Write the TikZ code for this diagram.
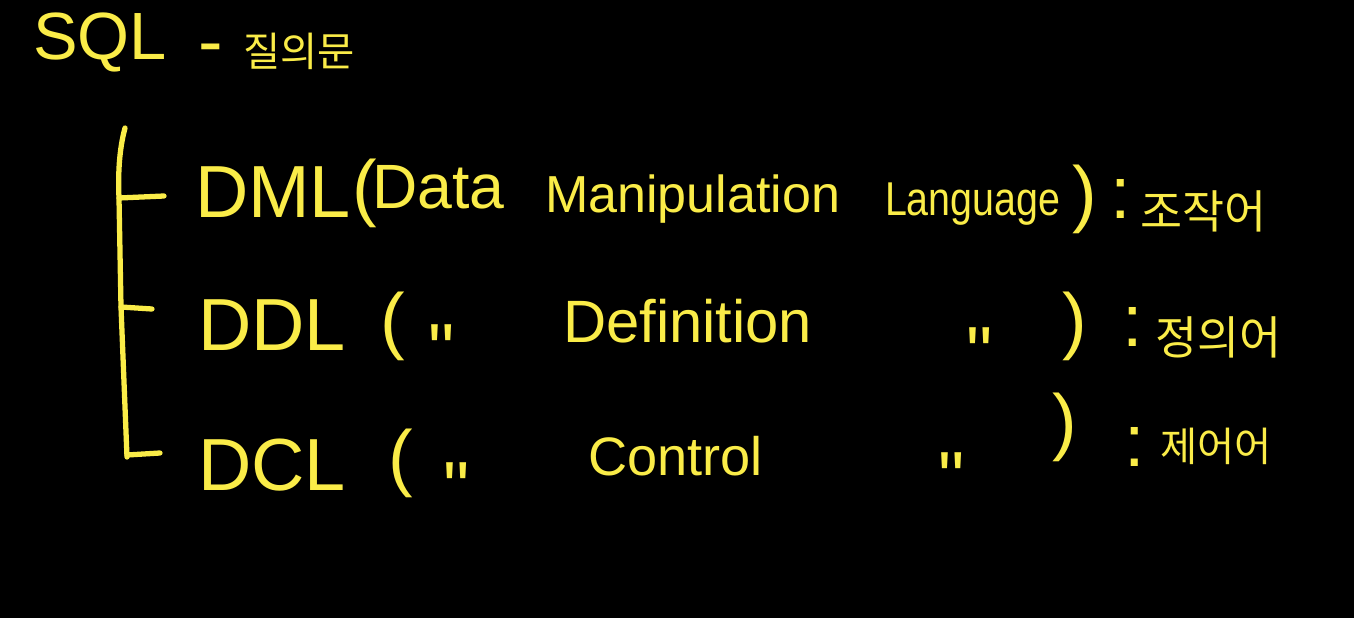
\documentclass[tikz,border=0pt]{standalone}
\usepackage{fontspec}
\setmainfont{Liberation Sans}
\newfontfamily\kr{Noto Sans CJK KR}
\definecolor{pen}{RGB}{250,236,72}
\begin{document}
\begin{tikzpicture}[x=0.01cm, y=-0.01cm]
      %% Styles
      \tikzset
      {
      txt/.style={text=pen, inner sep=0pt, outer sep=0pt, anchor=base west, font=\fontsize{21}{24}\selectfont},
      word/.style={txt, font=\fontsize{#1}{20}\selectfont},
      hangul/.style={txt, font=\kr\fontsize{13}{16}\selectfont},
      stroke/.style={draw=pen, line width=1.5pt, line cap=round, line join=round},
      }
      \fill[black] (0,0) rectangle (1354,618);
      \useasboundingbox (0,0) rectangle (1354,618);
      %% Title
      \node[txt, font=\fontsize{19}{22}\selectfont] (sql) at (33,60) {SQL};
      \node[txt] (dash) at (198,66) {-};
      \node[hangul, font=\kr\fontsize{11.5}{14}\selectfont] (query) at (243,67) {질의문};
      %% DML row
      \node[txt] (dml) at (195,217) {DML};
      \node[txt] (dmlopen) at (352,212) {(};
      \node[word=17.8] (data) at (372,208) {Data};
      \node[word=14.8] (manip) at (545,212) {Manipulation};
      \node[word=13.5] (lang) at (885,215) {\scalebox{0.83}[1]{Language}};
      \node[txt] (dmlclose) at (1072,218) {)};
      \node[txt] (dmlcolon) at (1110,218) {:};
      \node[hangul] (dmlkr) at (1140,228) {조작어};
      %% DDL row
      \node[txt] (ddl) at (198,350) {DDL};
      \node[txt] (ddlopen) at (380,345) {(};
      \node[txt] (ddlq1) at (428,375) {\textquotedbl};
      \node[word=17] (defn) at (563,342) {Definition};
      \node[txt] (ddlq2) at (966,378) {\textquotedbl};
      \node[txt] (ddlclose) at (1062,345) {)};
      \node[txt] (ddlcolon) at (1122,346) {:};
      \node[hangul] (ddlkr) at (1155,354) {정의어};
      %% DCL row
      \node[txt] (dcl) at (198,490) {DCL};
      \node[txt] (dclopen) at (388,482) {(};
      \node[txt] (dclq1) at (443,513) {\textquotedbl};
      \node[word=15.4] (ctrl) at (588,475) {Control};
      \node[txt] (dclq2) at (938,503) {\textquotedbl};
      \node[txt] (dclclose) at (1052,446) {)};
      \node[txt] (dclcolon) at (1124,466) {:};
      \node[hangul, font=\kr\fontsize{11.5}{14}\selectfont] (dclkr) at (1160,461) {제어어};
      %% Bracket
      \coordinate (top) at (125,128);
      \coordinate (bot) at (127,457);
      \coordinate (b1) at (119,198);
      \coordinate (b2) at (121,307);
      \coordinate (b3) at (127,455);
      \draw[stroke] (top) .. controls (119,150) and (118,175) .. (b1) -- (b2) -- (bot);
      \draw[stroke] (b1) -- ++(45,-2)
                    (b2) -- ++(31,2)
                    (b3) -- ++(33,-2);
\end{tikzpicture}
\end{document}
